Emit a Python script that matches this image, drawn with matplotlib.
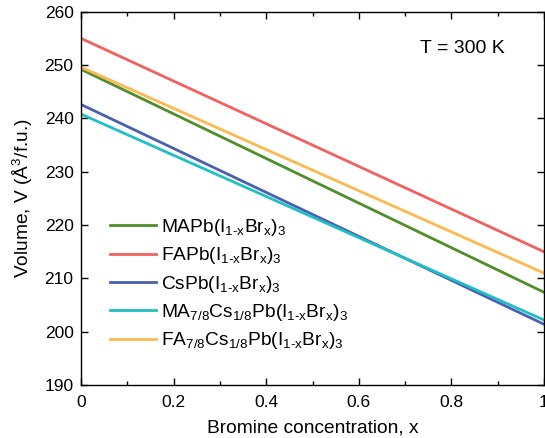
import matplotlib
matplotlib.use("Agg")
import matplotlib.pyplot as plt
from matplotlib.ticker import MultipleLocator, FormatStrFormatter

plt.rcParams['font.family'] = ['Liberation Sans', 'DejaVu Sans']
plt.rcParams['mathtext.fontset'] = 'custom'
plt.rcParams['mathtext.rm'] = 'Liberation Sans'
plt.rcParams['mathtext.it'] = 'Liberation Sans'

x = [0.0, 1.0]
MAPb = [249.2, 207.4]
FAPb = [255.0, 215.0]
CsPb = [242.6, 201.4]
MACs = [240.8, 202.2]
FACs = [249.6, 211.0]

labels = [
    r'MAPb(I$_\mathregular{1\text{-}x}$Br$_\mathregular{x}$)$_\mathregular{3}$',
    r'FAPb(I$_\mathregular{1\text{-}x}$Br$_\mathregular{x}$)$_\mathregular{3}$',
    r'CsPb(I$_\mathregular{1\text{-}x}$Br$_\mathregular{x}$)$_\mathregular{3}$',
    r'MA$_\mathregular{7/8}$Cs$_\mathregular{1/8}$Pb(I$_\mathregular{1\text{-}x}$Br$_\mathregular{x}$)$_\mathregular{3}$',
    r'FA$_\mathregular{7/8}$Cs$_\mathregular{1/8}$Pb(I$_\mathregular{1\text{-}x}$Br$_\mathregular{x}$)$_\mathregular{3}$',
]
colors = ['#4f8e2a', '#f2605f', '#4b5fb1', '#1ec0c3', '#fdb84f']
series = [MAPb, FAPb, CsPb, MACs, FACs]

fig = plt.figure(figsize=(5.45, 4.38), dpi=100)
ax = fig.add_axes([0.149, 0.121, 0.849, 0.852])
for s, c, l in zip(series, colors, labels):
    ax.plot(x, s, color=c, lw=2.0, label=l)

ax.set_xlim(0, 1)
ax.set_ylim(190, 260)
ax.xaxis.set_major_locator(MultipleLocator(0.2))
ax.xaxis.set_minor_locator(MultipleLocator(0.1))
ax.yaxis.set_major_locator(MultipleLocator(10))
ax.xaxis.set_major_formatter(FormatStrFormatter('%g'))
ax.tick_params(which='both', direction='in', top=True, right=True, labelsize=12.5)
ax.tick_params(axis='x', which='major', pad=7)
ax.tick_params(axis='y', which='major', pad=5.5)
ax.tick_params(which='major', length=5, width=1)
ax.tick_params(which='minor', length=3, width=1)
for sp in ax.spines.values():
    sp.set_linewidth(1.0)

ax.set_xlabel('Bromine concentration, x', fontsize=13.8, labelpad=7)
ax.set_ylabel('Volume, V (Å$^\\mathregular{3}$/f.u.)', fontsize=13.8, labelpad=6.5)
ax.text(0.916, 0.903, 'T = 300 K', transform=ax.transAxes, ha='right', va='center', fontsize=14)

ax.legend(loc='lower left', bbox_to_anchor=(0.046, 0.07), frameon=False, fontsize=13.8,
          handlelength=2.4, handletextpad=0.25, labelspacing=0.38, borderaxespad=0)

fig.savefig('out.png', dpi=100)
